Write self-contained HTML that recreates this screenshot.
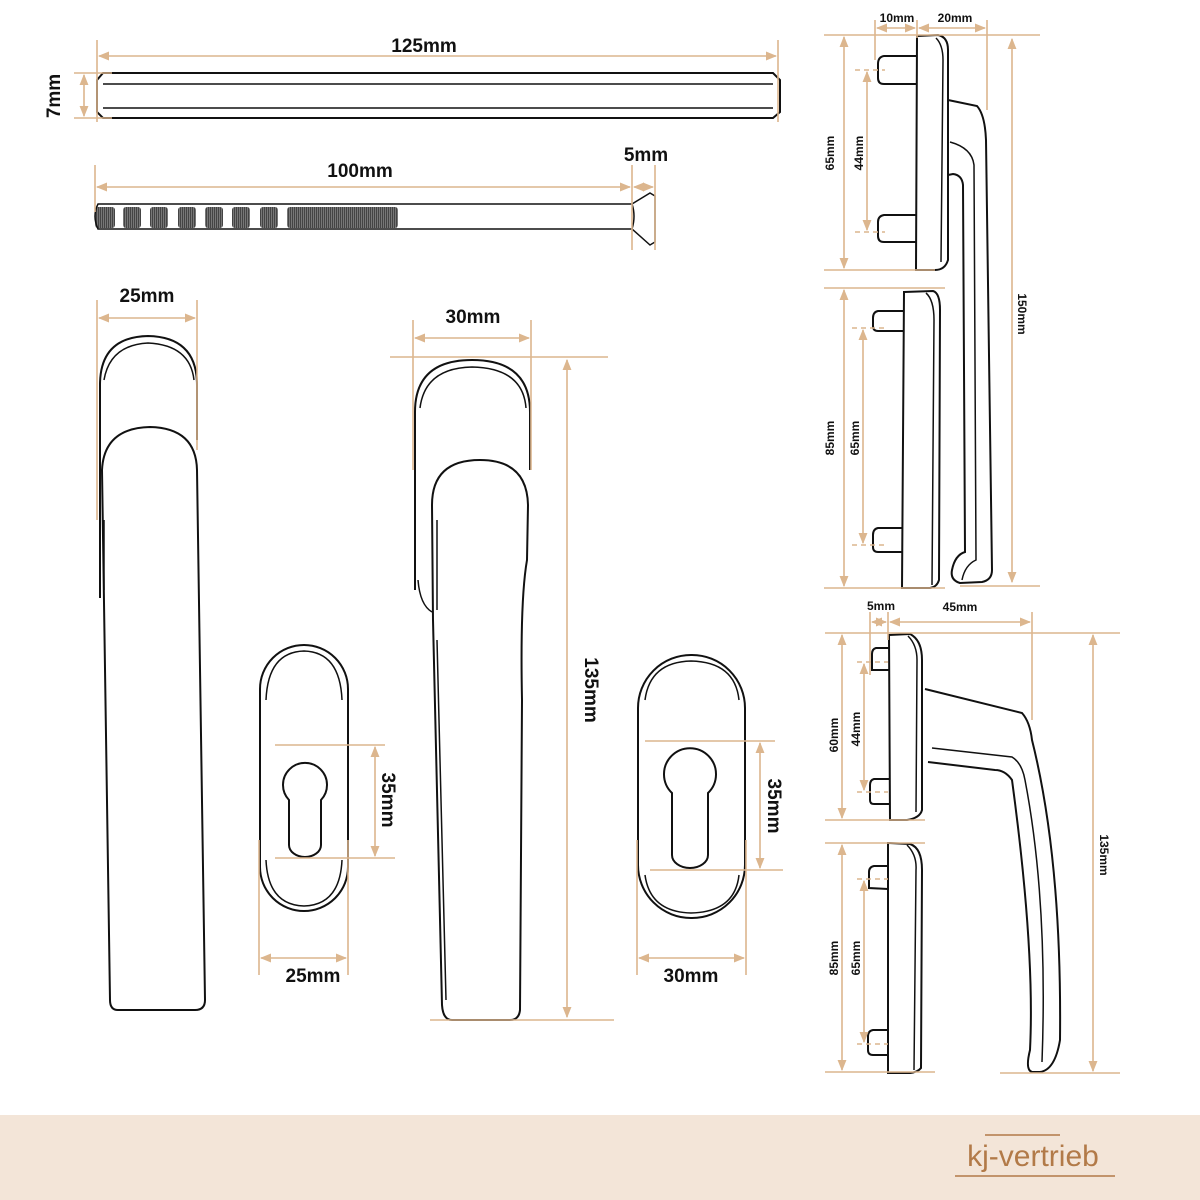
<!DOCTYPE html>
<html><head><meta charset="utf-8"><style>
html,body{margin:0;padding:0;background:#fff}
svg{display:block}
text{font-family:"Liberation Sans",sans-serif;font-weight:bold;fill:#111}
.d{stroke:#dcb68e;stroke-width:1.6;fill:none}
.o{stroke:#111;stroke-width:2;fill:none}
.t{stroke:#111;stroke-width:1.5;fill:none}
</style></head><body>
<svg width="1200" height="1200" viewBox="0 0 1200 1200" xmlns="http://www.w3.org/2000/svg">
<defs>
<marker id="a" viewBox="0 0 10 10" refX="9" refY="5" markerWidth="7" markerHeight="7" orient="auto-start-reverse"><path d="M0,1 L10,5 L0,9 z" fill="#dcb68e"/></marker>
<pattern id="th" width="2" height="4" patternUnits="userSpaceOnUse"><rect width="2" height="4" fill="#777"/><rect width="1" height="4" fill="#444"/></pattern>
</defs>
<rect x="0" y="0" width="1200" height="1200" fill="#fff"/>

<!-- square bar 125mm -->
<path class="o" d="M97,80 L103,73 L773,73 L780,80 L780,112 L773,118 L103,118 L97,112 Z"/>
<line class="t" x1="103" y1="84" x2="773" y2="84"/>
<line class="t" x1="103" y1="108" x2="773" y2="108"/>
<line class="d" x1="97" y1="40" x2="97" y2="122"/>
<line class="d" x1="778" y1="40" x2="778" y2="122"/>
<line class="d" x1="99" y1="56" x2="776" y2="56" marker-start="url(#a)" marker-end="url(#a)"/>
<text x="424" y="52" font-size="19" text-anchor="middle">125mm</text>
<line class="d" x1="74" y1="73" x2="112" y2="73"/>
<line class="d" x1="74" y1="118" x2="112" y2="118"/>
<line class="d" x1="84" y1="75" x2="84" y2="116" marker-start="url(#a)" marker-end="url(#a)"/>
<text transform="translate(60,96) rotate(-90)" font-size="19" text-anchor="middle">7mm</text>

<!-- screw -->
<g fill="url(#th)">
<rect x="95" y="207" width="20" height="21" rx="3"/>
<rect x="123" y="207" width="18" height="21" rx="3"/>
<rect x="150" y="207" width="18" height="21" rx="3"/>
<rect x="178" y="207" width="18" height="21" rx="3"/>
<rect x="205" y="207" width="18" height="21" rx="3"/>
<rect x="232" y="207" width="18" height="21" rx="3"/>
<rect x="260" y="207" width="18" height="21" rx="3"/>
<rect x="287" y="207" width="111" height="21" rx="3"/>
</g>
<path class="t" d="M98,204 L632,204 L650,193 L655,196 L655,242 L650,245 L632,229 L98,229 Q92,216 98,204 Z"/>
<path class="t" d="M632,204 Q636,216 632,229"/>
<line class="d" x1="95" y1="165" x2="95" y2="212"/>
<line class="d" x1="632" y1="165" x2="632" y2="250"/>
<line class="d" x1="655" y1="165" x2="655" y2="250"/>
<line class="d" x1="97" y1="187" x2="630" y2="187" marker-start="url(#a)" marker-end="url(#a)"/>
<line class="d" x1="634" y1="187" x2="653" y2="187" marker-start="url(#a)" marker-end="url(#a)"/>
<text x="360" y="177" font-size="19" text-anchor="middle">100mm</text>
<text x="646" y="161" font-size="19" text-anchor="middle">5mm</text>

<!-- left handle 25mm -->
<path class="o" d="M100,598 L100,385 Q100,337 148,336 Q197,337 197,385 L197,440"/>
<path class="t" d="M104,380 Q110,345 148,343 Q190,345 194,380"/>
<path class="o" d="M102,470 Q104,428 150,427 Q196,428 197,470 L205,1000 Q205,1010 195,1010 L118,1010 Q110,1010 110,1000 L102,470 Z"/>
<path class="t" d="M104,520 L104,590"/>
<line class="d" x1="97" y1="300" x2="97" y2="520"/>
<line class="d" x1="197" y1="300" x2="197" y2="450"/>
<line class="d" x1="99" y1="318" x2="195" y2="318" marker-start="url(#a)" marker-end="url(#a)"/>
<text x="147" y="302" font-size="19" text-anchor="middle">25mm</text>

<!-- middle handle 30mm -->
<path class="o" d="M415,590 L415,412 Q415,360 472,360 Q530,360 530,412 L530,470"/>
<path class="t" d="M420,408 Q425,368 472,367 Q523,368 526,408"/>
<path class="o" d="M432,505 Q432,460 480,460 Q527,460 528,505 L527,560 Q520,600 522,700 L520,1010 Q519,1020 510,1020 L452,1020 Q443,1020 442,1005 L433,620 Z"/>
<path class="t" d="M437,520 L437,610 M437,640 L446,1000"/>
<path class="t" d="M418,580 Q420,605 432,612"/>
<line class="d" x1="413" y1="320" x2="413" y2="470"/>
<line class="d" x1="531" y1="320" x2="531" y2="470"/>
<line class="d" x1="415" y1="338" x2="529" y2="338" marker-start="url(#a)" marker-end="url(#a)"/>
<text x="473" y="323" font-size="19" text-anchor="middle">30mm</text>
<line class="d" x1="390" y1="357" x2="608" y2="357"/>
<line class="d" x1="430" y1="1020" x2="614" y2="1020"/>
<line class="d" x1="567" y1="360" x2="567" y2="1017" marker-start="url(#a)" marker-end="url(#a)"/>
<text transform="translate(585,690) rotate(90)" font-size="19" text-anchor="middle">135mm</text>

<!-- small rosette -->
<rect class="o" x="260" y="645" width="88" height="266" rx="44"/>
<path class="t" d="M266,700 Q268,652 304,651 Q340,652 342,700"/>
<path class="t" d="M266,860 Q268,905 304,906 Q340,905 342,860"/>
<path class="o" d="M289,800 A22,22 0 1 1 321,800 L321,845 A16,12 0 0 1 289,845 Z"/>
<line class="d" x1="275" y1="745" x2="385" y2="745"/>
<line class="d" x1="275" y1="858" x2="395" y2="858"/>
<line class="d" x1="375" y1="747" x2="375" y2="856" marker-start="url(#a)" marker-end="url(#a)"/>
<text transform="translate(382,800) rotate(90)" font-size="19" text-anchor="middle">35mm</text>
<line class="d" x1="259" y1="840" x2="259" y2="975"/>
<line class="d" x1="348" y1="840" x2="348" y2="975"/>
<line class="d" x1="261" y1="958" x2="346" y2="958" marker-start="url(#a)" marker-end="url(#a)"/>
<text x="313" y="982" font-size="19" text-anchor="middle">25mm</text>

<!-- large rosette -->
<rect class="o" x="638" y="655" width="107" height="263" rx="53"/>
<path class="t" d="M645,700 Q650,662 691,661 Q735,662 739,700"/>
<path class="t" d="M645,875 Q650,912 691,913 Q735,912 739,875"/>
<path class="o" d="M672,793 A26,26 0 1 1 708,793 L708,855 A18,13 0 0 1 672,855 Z"/>
<line class="d" x1="645" y1="741" x2="775" y2="741"/>
<line class="d" x1="650" y1="870" x2="783" y2="870"/>
<line class="d" x1="760" y1="743" x2="760" y2="868" marker-start="url(#a)" marker-end="url(#a)"/>
<text transform="translate(768,806) rotate(90)" font-size="19" text-anchor="middle">35mm</text>
<line class="d" x1="637" y1="840" x2="637" y2="975"/>
<line class="d" x1="746" y1="840" x2="746" y2="975"/>
<line class="d" x1="639" y1="958" x2="744" y2="958" marker-start="url(#a)" marker-end="url(#a)"/>
<text x="691" y="982" font-size="19" text-anchor="middle">30mm</text>

<!-- right top: side view 150mm -->
<g font-size="12">
<path class="o" d="M917,36 L938,35 Q948,37 948,50 L948,260 Q945,270 935,270 L916,270 Z"/>
<path class="t" d="M936,38 Q943,45 943,60 L941,262"/>
<path class="o" d="M917,56 L884,56 Q878,57 878,64 L878,78 Q878,84 884,84 L917,84"/>
<path class="o" d="M917,215 L884,215 Q878,216 878,222 L878,236 Q878,242 884,242 L917,242"/>
<path class="o" d="M948,100 L977,106 Q985,115 986,140 L992,570 Q992,580 982,582 L960,583 Q950,580 952,570 Q955,555 965,552 L963,185 Q962,175 953,174 L948,175"/>
<path class="t" d="M950,142 Q972,148 974,165 L976,560 Q965,565 962,580"/>
<path class="o" d="M904,292 L933,291 Q940,293 940,310 L939,580 Q937,587 930,588 L902,588 Z"/>
<path class="t" d="M926,293 Q934,300 934,320 L932,585"/>
<path class="o" d="M904,311 L878,311 Q873,312 873,318 L873,326 Q873,331 878,331 L904,331"/>
<path class="o" d="M902,528 L878,528 Q873,529 873,535 L873,547 Q873,552 878,552 L902,552"/>
<line class="d" x1="824" y1="35" x2="1040" y2="35"/>
<line class="d" x1="824" y1="270" x2="935" y2="270"/>
<line class="d" x1="844" y1="37" x2="844" y2="268" marker-start="url(#a)" marker-end="url(#a)"/>
<text transform="translate(834,153) rotate(-90)" text-anchor="middle">65mm</text>
<line class="d" x1="855" y1="70" x2="885" y2="70" stroke-dasharray="5,4"/>
<line class="d" x1="855" y1="232" x2="885" y2="232" stroke-dasharray="5,4"/>
<line class="d" x1="867" y1="72" x2="867" y2="230" marker-start="url(#a)" marker-end="url(#a)"/>
<text transform="translate(863,153) rotate(-90)" text-anchor="middle">44mm</text>
<line class="d" x1="875" y1="20" x2="875" y2="60"/>
<line class="d" x1="917" y1="20" x2="917" y2="38"/>
<line class="d" x1="987" y1="20" x2="987" y2="110"/>
<line class="d" x1="877" y1="28" x2="915" y2="28" marker-start="url(#a)" marker-end="url(#a)"/>
<line class="d" x1="919" y1="28" x2="985" y2="28" marker-start="url(#a)" marker-end="url(#a)"/>
<text x="897" y="22" text-anchor="middle">10mm</text>
<text x="955" y="22" text-anchor="middle">20mm</text>
<line class="d" x1="1012" y1="39" x2="1012" y2="582" marker-start="url(#a)" marker-end="url(#a)"/>
<line class="d" x1="960" y1="586" x2="1040" y2="586"/>
<text transform="translate(1018,314) rotate(90)" text-anchor="middle">150mm</text>
<line class="d" x1="824" y1="288" x2="945" y2="288"/>
<line class="d" x1="824" y1="588" x2="945" y2="588"/>
<line class="d" x1="844" y1="290" x2="844" y2="586" marker-start="url(#a)" marker-end="url(#a)"/>
<text transform="translate(834,438) rotate(-90)" text-anchor="middle">85mm</text>
<line class="d" x1="852" y1="328" x2="888" y2="328" stroke-dasharray="5,4"/>
<line class="d" x1="852" y1="545" x2="888" y2="545" stroke-dasharray="5,4"/>
<line class="d" x1="863" y1="330" x2="863" y2="543" marker-start="url(#a)" marker-end="url(#a)"/>
<text transform="translate(859,438) rotate(-90)" text-anchor="middle">65mm</text>

<!-- right bottom: side view 135mm -->
<path class="o" d="M889,635 L910,634 Q922,640 922,660 L922,810 Q920,818 907,820 L890,820 Z"/>
<path class="t" d="M908,636 Q917,645 917,660 L916,812"/>
<path class="o" d="M890,648 L876,648 Q872,649 872,654 L872,670 L890,670"/>
<path class="o" d="M889,779 L874,779 Q870,780 870,785 L870,800 Q870,804 874,804 L889,804"/>
<path class="o" d="M925,689 L1022,713 Q1030,722 1032,740 Q1062,860 1060,1040 Q1055,1070 1040,1072 L1032,1072 Q1025,1070 1030,1050 Q1035,950 1012,780 Q1005,770 995,770 L928,762"/>
<path class="t" d="M932,748 L1012,757 Q1022,763 1025,780 Q1048,900 1042,1062"/>
<path class="o" d="M888,843 L910,844 Q922,848 922,870 L921,1068 Q918,1072 910,1073 L888,1073 Z"/>
<path class="t" d="M907,845 Q917,855 916,870 L914,1070"/>
<path class="o" d="M888,866 L874,866 Q869,867 869,872 L869,888 L888,889"/>
<path class="o" d="M887,1030 L873,1030 Q868,1031 868,1036 L868,1050 Q868,1055 873,1055 L887,1055"/>
<line class="d" x1="825" y1="633" x2="1120" y2="633"/>
<line class="d" x1="825" y1="820" x2="925" y2="820"/>
<line class="d" x1="842" y1="635" x2="842" y2="818" marker-start="url(#a)" marker-end="url(#a)"/>
<text transform="translate(838,735) rotate(-90)" text-anchor="middle">60mm</text>
<line class="d" x1="857" y1="662" x2="888" y2="662" stroke-dasharray="5,4"/>
<line class="d" x1="857" y1="792" x2="888" y2="792" stroke-dasharray="5,4"/>
<line class="d" x1="864" y1="664" x2="864" y2="790" marker-start="url(#a)" marker-end="url(#a)"/>
<text transform="translate(860,729) rotate(-90)" text-anchor="middle">44mm</text>
<line class="d" x1="870" y1="612" x2="870" y2="675"/>
<line class="d" x1="888" y1="612" x2="888" y2="640"/>
<line class="d" x1="1032" y1="612" x2="1032" y2="720"/>
<line class="d" x1="872" y1="622" x2="886" y2="622" marker-start="url(#a)" marker-end="url(#a)"/>
<line class="d" x1="890" y1="622" x2="1030" y2="622" marker-start="url(#a)" marker-end="url(#a)"/>
<text x="881" y="610" text-anchor="middle">5mm</text>
<text x="960" y="611" text-anchor="middle">45mm</text>
<line class="d" x1="1093" y1="635" x2="1093" y2="1071" marker-start="url(#a)" marker-end="url(#a)"/>
<line class="d" x1="1000" y1="1073" x2="1120" y2="1073"/>
<text transform="translate(1100,855) rotate(90)" text-anchor="middle">135mm</text>
<line class="d" x1="825" y1="843" x2="925" y2="843"/>
<line class="d" x1="825" y1="1072" x2="935" y2="1072"/>
<line class="d" x1="842" y1="845" x2="842" y2="1070" marker-start="url(#a)" marker-end="url(#a)"/>
<text transform="translate(838,958) rotate(-90)" text-anchor="middle">85mm</text>
<line class="d" x1="857" y1="879" x2="888" y2="879" stroke-dasharray="5,4"/>
<line class="d" x1="857" y1="1044" x2="888" y2="1044" stroke-dasharray="5,4"/>
<line class="d" x1="864" y1="881" x2="864" y2="1042" marker-start="url(#a)" marker-end="url(#a)"/>
<text transform="translate(860,958) rotate(-90)" text-anchor="middle">65mm</text>
</g>

<!-- footer -->
<rect x="0" y="1115" width="1200" height="85" fill="#f3e5d8"/>
<line x1="985" y1="1135" x2="1060" y2="1135" stroke="#b27a48" stroke-width="1.5"/>
<line x1="955" y1="1176" x2="1115" y2="1176" stroke="#b27a48" stroke-width="1.5"/>
<text x="1033" y="1166" font-size="30" text-anchor="middle" style="fill:#b27a48;font-weight:normal">kj-vertrieb</text>
</svg>
</body></html>
